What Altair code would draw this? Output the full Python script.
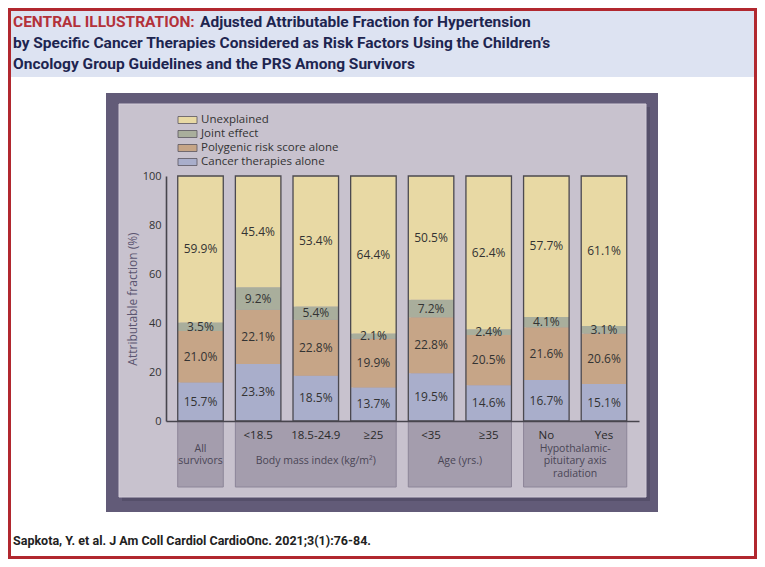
import altair as alt
import pandas as pd

# ---------------- data ----------------
categories = ["All survivors", "<18.5", "18.5-24.9", "≥25", "<35", "≥35", "No", "Yes"]
sub_labels = ["", "<18.5", "18.5-24.9", "≥25", "<35", "≥35", "No", "Yes"]
cancer_alone = [15.7, 23.3, 18.5, 13.7, 19.5, 14.6, 16.7, 15.1]
prs_alone = [21.0, 22.1, 22.8, 19.9, 22.8, 20.5, 21.6, 20.6]
joint_effect = [3.5, 9.2, 5.4, 2.1, 7.2, 2.4, 4.1, 3.1]
unexplained = [59.9, 45.4, 53.4, 64.4, 50.5, 62.4, 57.7, 61.1]

components = ["Cancer therapies alone", "Polygenic risk score alone", "Joint effect", "Unexplained"]
component_colors = ["#a9aecb", "#c6a587", "#a9ae9c", "#e8d9a4"]

group_lines = [["All", "survivors"], ["Body mass index (kg/m²)"], ["Age (yrs.)"],
               ["Hypothalamic-", "pituitary axis", "radiation"]]
group_first = [0, 1, 4, 6]
group_last = [0, 3, 5, 7]

y_ticks = [0, 20, 40, 60, 80, 100]
y_title = "Attributable fraction (%)"

title_red = "CENTRAL ILLUSTRATION:"
title_line1 = "Adjusted Attributable Fraction for Hypertension"
title_line2 = "by Specific Cancer Therapies Considered as Risk Factors Using the Children’s"
title_line3 = "Oncology Group Guidelines and the PRS Among Survivors"
citation = "Sapkota, Y. et al. J Am Coll Cardiol CardioOnc. 2021;3(1):76-84."

# ---------------- tables ----------------
series = [cancer_alone, prs_alone, joint_effect, unexplained]
rows = []
for i, cat in enumerate(categories):
    for k, comp in enumerate(components):
        rows.append({"idx": i, "category": cat, "component": comp, "order": k, "value": series[k][i]})
df = pd.DataFrame(rows)

bars_df = pd.DataFrame({"idx": list(range(len(categories))), "category": categories,
                        "lo": [0] * len(categories), "hi": [100] * len(categories)})
sub_df = pd.DataFrame({"idx": list(range(len(categories))), "lab": sub_labels})
sub_df = sub_df[sub_df["lab"] != ""]

HALF = 0.395
TFONT = "Roboto"
FONT = "Open Sans"
TSIZE = 15.5

xscale = alt.Scale(domain=[-0.5985, 7.6075], nice=False, zero=False)
yscale = alt.Scale(domain=[0, 100], nice=False)
xaxis = alt.Axis(labels=False, ticks=False, grid=False, title=None, domainColor="#47454d",
                 domainWidth=1.6, zindex=1)
yaxis = alt.Axis(values=y_ticks, ticks=False, grid=False, title=y_title, domainColor="#47454d",
                 domainWidth=1.6, labelFont=FONT, labelFontSize=11, labelColor="#333333",
                 labelPadding=5, titleFont=FONT, titleFontSize=12, titleFontWeight="normal",
                 titleColor="#5b5570", titlePadding=3, zindex=1)

one = pd.DataFrame({"a": [0]})


def deco(x, x2, y, y2, **kw):
    return alt.Chart(one).mark_rect(**kw).encode(
        x=alt.value(x), x2=alt.value(x2), y=alt.value(y), y2=alt.value(y2))


def label(txt, x, y, **kw):
    return alt.Chart(one).mark_text(**kw).encode(
        x=alt.value(x), y=alt.value(y), text=alt.value(txt))


layers = []
# page frame and title band
layers.append(deco(-156.5, 589.5, -166.5, 381.5, fill="white", stroke="#b1282f", strokeWidth=3))
layers.append(deco(-155, 588, -165, -99, fill="#dde3f2"))
layers.append(label(title_red, -153, -149, align="left", baseline="alphabetic", font=TFONT,
                    fontSize=TSIZE, fontWeight="bold", color="#b3313a"))
layers.append(label(title_line1, 34, -149, align="left", baseline="alphabetic", font=TFONT,
                    fontSize=TSIZE, fontWeight="bold", color="#1d2550"))
layers.append(label(title_line2, -153, -128, align="left", baseline="alphabetic", font=TFONT,
                    fontSize=TSIZE, fontWeight="bold", color="#1d2550"))
layers.append(label(title_line3, -153, -107, align="left", baseline="alphabetic", font=TFONT,
                    fontSize=TSIZE, fontWeight="bold", color="#1d2550"))
layers.append(label(citation, -153, 369, align="left", baseline="alphabetic", font=TFONT,
                    fontSize=12.5, fontWeight="bold", color="#222222"))

# chart panel
layers.append(deco(-60, 492, -83, 336, fill="#625b78"))
layers.append(deco(-44, 484, -69, 325, fill="#554f6a"))
layers.append(deco(-47, 480, -72, 321, fill="#c8c2ce", stroke="#d3cdd9", strokeWidth=1))

# legend
for k, comp in enumerate(reversed(components)):
    col = component_colors[len(components) - 1 - k]
    yc = -56 + 14 * k
    layers.append(deco(12, 31, yc - 3.5, yc + 3.5, fill=col, stroke="#5a5660", strokeWidth=0.8))
    layers.append(label(comp, 35, yc, align="left", baseline="middle", font=FONT,
                        fontSize=11.5, color="#333333"))

# group boxes
grp_df = pd.DataFrame({"first": group_first, "last": group_last})
layers.append(
    alt.Chart(grp_df).transform_calculate(
        gl=f"datum.first - {HALF}", gr=f"datum.last + {HALF}"
    ).mark_rect(fill="#a49dad", stroke="#8c8598", strokeWidth=1).encode(
        x=alt.X("gl:Q", scale=xscale, axis=xaxis), x2="gr:Q",
        y=alt.value(245), y2=alt.value(311))
)

# bar shadows and segments
bar_base = alt.Chart(bars_df).transform_calculate(
    xl=f"datum.idx - {HALF}", xr=f"datum.idx + {HALF}")
layers.append(bar_base.mark_rect(fill="#a39dab", xOffset=2.5).encode(
    x=alt.X("xl:Q", scale=xscale, axis=xaxis), x2="xr:Q",
    y=alt.Y("lo:Q", scale=yscale, axis=yaxis), y2="hi:Q"))

seg = alt.Chart(df).transform_stack(
    stack="value", groupby=["idx"], as_=["y0", "y1"], sort=[alt.SortField("order")]
).transform_calculate(
    xl=f"datum.idx - {HALF}", xr=f"datum.idx + {HALF}",
    ym="(datum.y0 + datum.y1) / 2",
    lab="format(datum.value, '.1f') + '%'")
layers.append(seg.mark_rect().encode(
    x=alt.X("xl:Q", scale=xscale, axis=xaxis), x2="xr:Q",
    y=alt.Y("y0:Q", scale=yscale, axis=yaxis), y2="y1:Q",
    color=alt.Color("component:N", scale=alt.Scale(domain=components, range=component_colors),
                    legend=None)))

layers.append(bar_base.mark_rect(fillOpacity=0, stroke="#4b4950", strokeWidth=1.3).encode(
    x=alt.X("xl:Q", scale=xscale, axis=xaxis), x2="xr:Q",
    y=alt.Y("lo:Q", scale=yscale, axis=yaxis), y2="hi:Q"))

layers.append(seg.mark_text(font=FONT, fontSize=12, color="#333333", baseline="middle").encode(
    x=alt.X("idx:Q", scale=xscale, axis=xaxis),
    y=alt.Y("ym:Q", scale=yscale, axis=yaxis),
    text="lab:N"))

# category labels below the axis
layers.append(alt.Chart(sub_df).mark_text(font=FONT, fontSize=11.5, color="#2a2a2a",
                                          baseline="middle").encode(
    x=alt.X("idx:Q", scale=xscale, axis=xaxis), y=alt.value(260), text="lab:N"))

for g, lines in enumerate(group_lines):
    gdf = pd.DataFrame({"gx": [(group_first[g] + group_last[g]) / 2]})
    y_first = 272.5 if len(lines) > 1 else 284.7
    for j, line in enumerate(lines):
        layers.append(alt.Chart(gdf).mark_text(font=FONT, fontSize=10.5, color="#4a4656",
                                               baseline="middle").encode(
            x=alt.X("gx:Q", scale=xscale, axis=xaxis), y=alt.value(y_first + 12.6 * j),
            text=alt.value(line)))

chart = alt.layer(*layers).properties(
    width=473, height=245,
    padding={"left": 158, "top": 168, "right": 118, "bottom": 138},
    autosize=alt.AutoSizeParams(type="none"),
).configure_view(stroke=None).configure(background="white")

chart.save("out.html", embed_options={"renderer": "svg", "actions": False})
